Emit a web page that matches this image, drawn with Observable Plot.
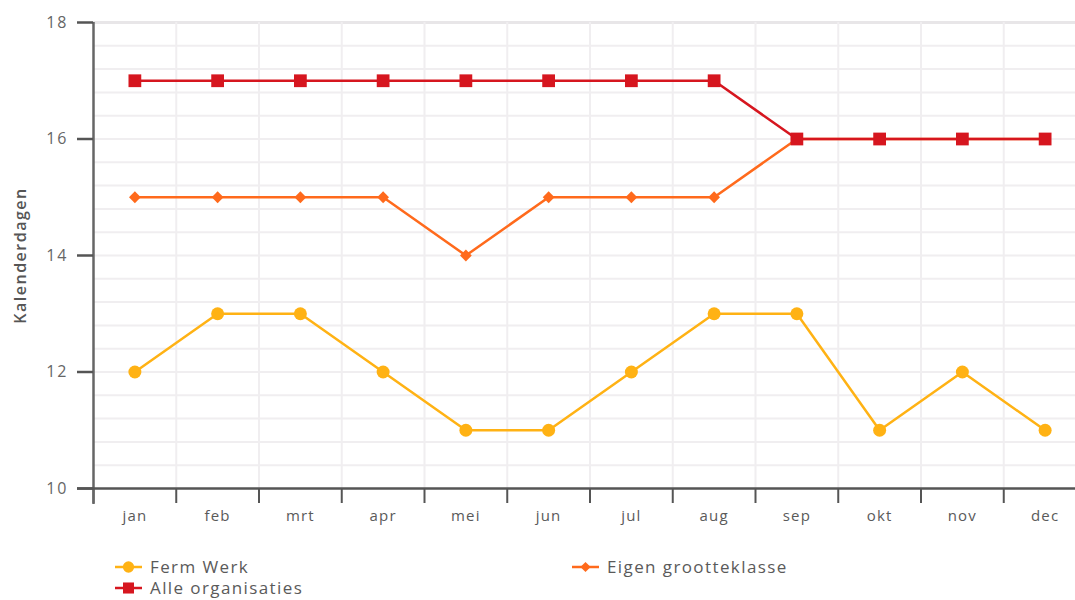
<!DOCTYPE html>
<html>
<head>
<meta charset="utf-8">
<script src="https://cdn.jsdelivr.net/npm/d3@7"></script>
<script src="https://cdn.jsdelivr.net/npm/@observablehq/plot@0.6"></script>
<style>
  html, body { margin: 0; padding: 0; background: #fff; }
  body { width: 1075px; height: 600px; overflow: hidden; font-family: "Open Sans", sans-serif; }
  #legend { position: relative; height: 70px; color: #5a5a5a; font-size: 17px; letter-spacing: 1.4px; line-height: 20px; }
  .item { position: absolute; display: flex; align-items: center; height: 22px; }
  .item svg { margin-right: 8px; }
  g[aria-label="x-axis tick label"] text { letter-spacing: 1.2px; }
  g[aria-label="y-axis tick label"] text { letter-spacing: 2px; }
  .ylabel text { letter-spacing: 1.5px; }
</style>
</head>
<body>
<div id="chart"></div>
<div id="legend"></div>
<script>
const months = ["jan","feb","mrt","apr","mei","jun","jul","aug","sep","okt","nov","dec"];
const fermWerk = [12,13,13,12,11,11,12,13,13,11,12,11];
const eigenGrootteklasse = [15,15,15,15,14,15,15,15,16,16,16,16];
const alleOrganisaties = [17,17,17,17,17,17,17,17,16,16,16,16];
const yTicks = [10,12,14,16,18];
const yGrid = [10.4,10.8,11.2,11.6,12,12.4,12.8,13.2,13.6,14,14.4,14.8,15.2,15.6,16,16.4,16.8,17.2,17.6,18];

const seriesNames = ["Ferm Werk","Eigen grootteklasse","Alle organisaties"];
const seriesColors = ["#ffb214","#ff6a1c","#d6161f"];
const seriesSymbols = ["circle","diamond2","square"];
const seriesR = [6.5,5.3,7.2];
const seriesValues = [fermWerk, eigenGrootteklasse, alleOrganisaties];

const data = seriesNames.flatMap((s, k) => months.map((m, i) => ({series: s, month: m, value: seriesValues[k][i]})));

const W = 1075, H = 530;
const left = 93, rightEnd = 1086;
const step = (rightEnd - left) / months.length;

const chart = Plot.plot({
  width: W,
  height: H,
  marginTop: 22,
  marginBottom: 42,
  marginLeft: left,
  marginRight: 0,
  style: {fontFamily: "'Open Sans', sans-serif", background: "white", overflow: "visible"},
  x: {type: "point", domain: months, range: [left, rightEnd], padding: 0.5, round: false},
  y: {domain: [10, 18], range: [488, 22]},
  color: {domain: seriesNames, range: seriesColors},
  symbol: {domain: seriesNames, range: seriesSymbols},
  marks: [
    // horizontal grid
    Plot.ruleY(yGrid, {stroke: (d) => d === 18 ? "#e8e6e8" : "#f0eef0", strokeWidth: (d) => d === 18 ? 3 : 2}),
    // vertical grid at band boundaries
    Plot.ruleX(months.slice(1), {x: (d) => d, dx: -step/2, stroke: "#f0eef0", strokeWidth: 2}),
    // x-axis tick marks at band boundaries (below axis)
    Plot.ruleX(months, {x: (d) => d, dx: -step/2, insetTop: 466, insetBottom: -15, stroke: "#555", strokeWidth: 2}),
    // axes lines
    Plot.ruleX([months[0]], {x: (d) => d, dx: -step/2, insetBottom: -16, stroke: "#666", strokeWidth: 2.5}),
    Plot.ruleY([10], {stroke: "#555", strokeWidth: 2.5, insetLeft: -16}),
    Plot.axisY({ticks: yTicks, tickSize: 16, tickPadding: 9, fontSize: 16, stroke: "#555", strokeWidth: 2.5, color: "#666", label: null, tickFormat: (d) => String(d)}),
    Plot.axisX({tickSize: 0, tickPadding: 22, fontSize: 15, color: "#5a5a5a", label: null}),
    Plot.text(["Kalenderdagen"], {frameAnchor: "left", textAnchor: "middle", dx: -73, rotate: -90, fontSize: 16, fontWeight: 600, fill: "#555", className: "ylabel"}),
    // series lines and markers
    Plot.line(data, {x: "month", y: "value", z: "series", stroke: "series", strokeWidth: 2.5}),
    ...seriesNames.map((s, k) => Plot.dot(data.filter(d => d.series === s), {x: "month", y: "value", symbol: "series", fill: "series", r: seriesR[k], stroke: "none"}))
  ]
});
document.getElementById("chart").append(chart);

// legend
const legendPos = [[115, 37], [572, 37], [115, 58]];
const legend = document.getElementById("legend");
seriesNames.forEach((s, k) => {
  const div = document.createElement("div");
  div.className = "item";
  div.style.left = legendPos[k][0] + "px";
  div.style.top = (legendPos[k][1] - 11) + "px";
  const sym = d3.symbol(seriesSymbols[k] === "circle" ? d3.symbolCircle : seriesSymbols[k] === "square" ? d3.symbolSquare : d3.symbolDiamond2, Math.PI * seriesR[k] * seriesR[k] * 0.75)();
  div.innerHTML = `<svg width="27" height="22"><line x1="0" x2="27" y1="11" y2="11" stroke="${seriesColors[k]}" stroke-width="2.5"/><path transform="translate(13.5,11)" d="${sym}" fill="${seriesColors[k]}"/></svg><span>${s}</span>`;
  legend.append(div);
});
</script>
</body>
</html>
